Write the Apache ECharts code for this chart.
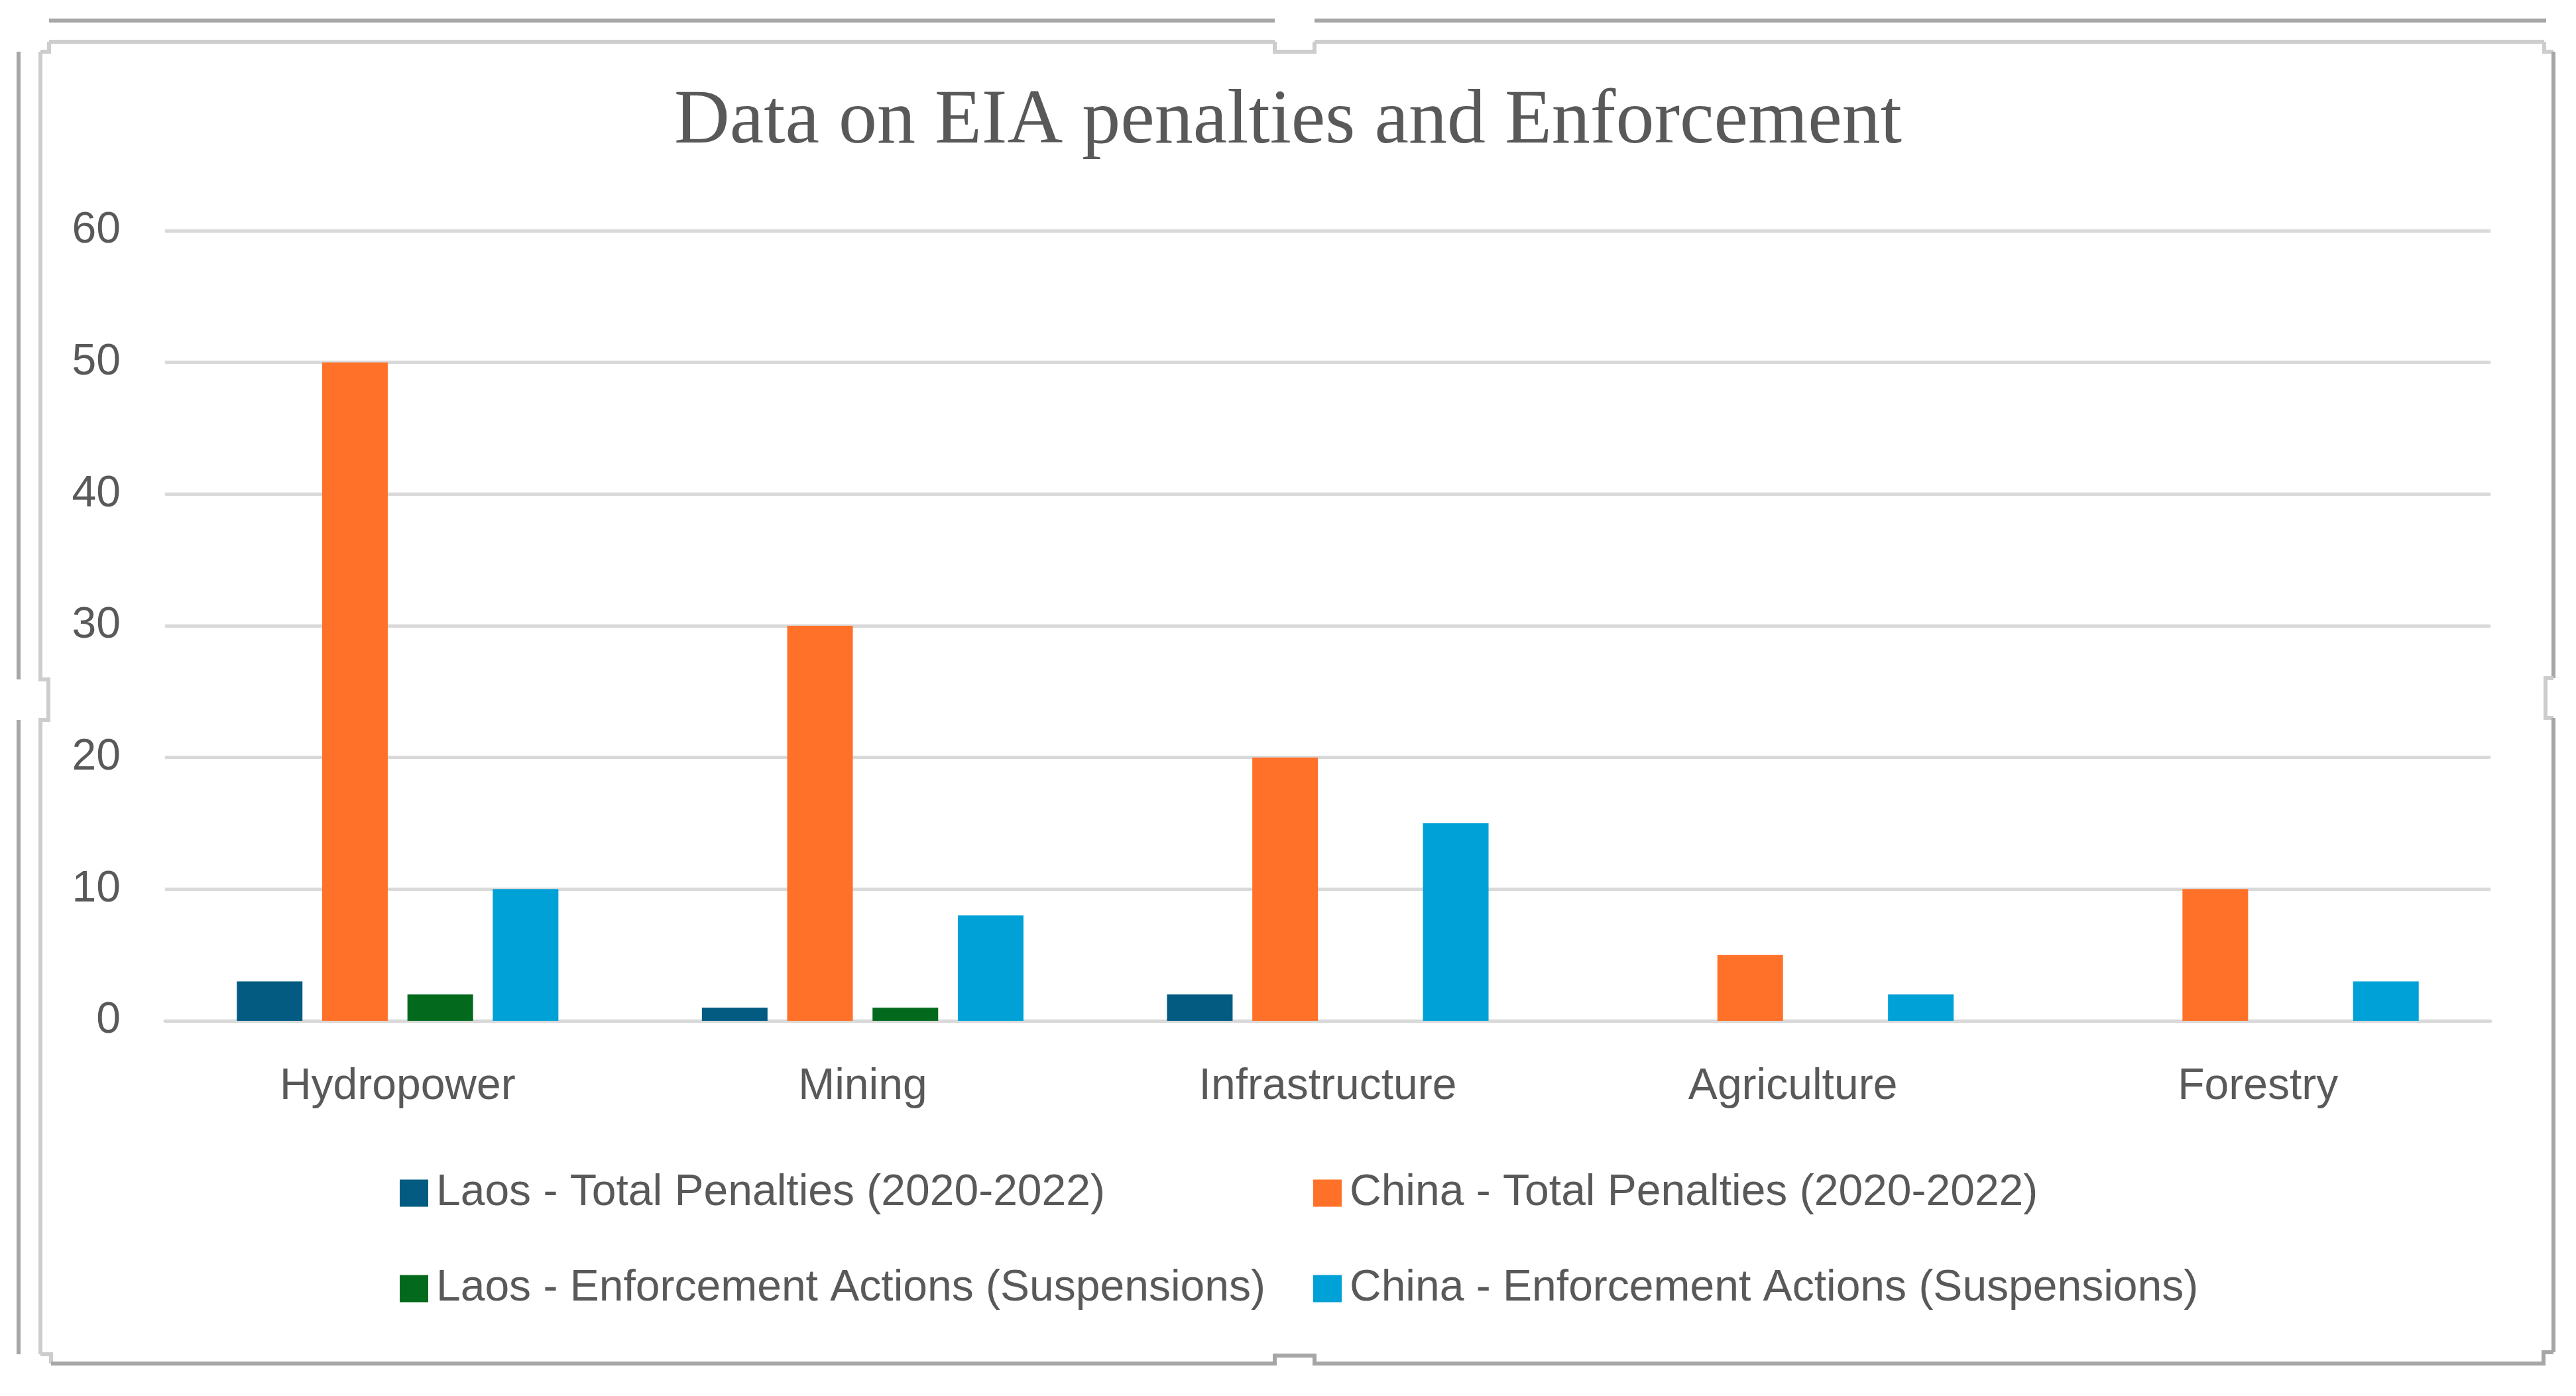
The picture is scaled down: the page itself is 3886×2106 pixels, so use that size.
<!DOCTYPE html>
<html>
<head>
<meta charset="utf-8">
<title>Data on EIA penalties and Enforcement</title>
<script src="https://cdn.jsdelivr.net/npm/echarts@6/dist/echarts.min.js"></script>
<style>
  html, body { margin: 0; padding: 0; background: #ffffff; }
  #chart { width: 3886px; height: 2106px; }
</style>
</head>
<body>
<div id="chart"></div>
<script>
// chart data
const categories = ['Hydropower', 'Mining', 'Infrastructure', 'Agriculture', 'Forestry'];
const laosPenalties = [3, 1, 2, 0, 0];
const chinaPenalties = [50, 30, 20, 5, 10];
const laosSuspensions = [2, 1, 0, 0, 0];
const chinaSuspensions = [10, 8, 15, 2, 3];
const seriesNames = [
    'Laos - Total Penalties (2020-2022)',
    'China - Total Penalties (2020-2022)',
    'Laos - Enforcement Actions (Suspensions)',
    'China - Enforcement Actions (Suspensions)'
];
const yTicks = [0, 10, 20, 30, 40, 50, 60];

const colors = ['#035b81', '#ff7128', '#036a1d', '#00a1d7'];
const textGrey = '#595959';
const sans = '"Liberation Sans", Arial, sans-serif';

// the selection frame round the chart, drawn as plain lines
function seg(points, color) {
    return {
        type: 'polyline',
        shape: { points: points },
        style: { stroke: color, lineWidth: 6, fill: null },
        silent: true
    };
}
const dark = '#a6a6a6';
const light = '#cdcdcd';
const frame = [
    seg([[74, 31], [1923, 31]], dark),
    seg([[1983, 31], [3841, 31]], dark),
    seg([[74, 63], [1923, 63]], light),
    seg([[1983, 63], [3838, 63]], light),
    seg([[1923, 63], [1923, 78], [1983, 78], [1983, 63]], light),
    seg([[28, 78], [28, 1025]], dark),
    seg([[28, 1086], [28, 2043]], dark),
    seg([[61, 78], [61, 1025], [73, 1025], [73, 1086], [61, 1086], [61, 2043]], light),
    seg([[61, 78], [74, 78], [74, 63]], light),
    seg([[3838, 63], [3838, 78], [3852, 78]], light),
    seg([[3852, 78], [3852, 1023]], dark),
    seg([[3852, 1023], [3840, 1023], [3840, 1083], [3852, 1083]], light),
    seg([[3852, 1083], [3852, 2040]], dark),
    seg([[61, 2043], [77, 2043], [77, 2057]], light),
    seg([[77, 2057], [1923, 2057], [1923, 2045], [1983, 2045], [1983, 2057], [3837, 2057], [3837, 2040], [3852, 2040]], dark)
];

const chart = echarts.init(document.getElementById('chart'));

const seriesData = [laosPenalties, chinaPenalties, laosSuspensions, chinaSuspensions];

function legendColumn(left, names) {
    return {
        orient: 'vertical',
        left: left,
        top: 1762,
        itemWidth: 43,
        itemHeight: 41,
        itemGap: 78,
        icon: 'rect',
        data: names,
        textStyle: {
            fontFamily: sans,
            fontSize: 66,
            lineHeight: 66,
            color: textGrey,
            padding: [0, 0, 0, 7]
        }
    };
}

const option = {
    animation: false,
    backgroundColor: '#ffffff',
    title: {
        text: 'Data on EIA penalties and Enforcement',
        left: 'center',
        top: 122,
        textStyle: {
            fontFamily: '"Liberation Serif", "Times New Roman", serif',
            fontSize: 116,
            fontWeight: 'normal',
            color: textGrey
        }
    },
    legend: [
        legendColumn(598, [seriesNames[0], seriesNames[2]]),
        legendColumn(1976, [seriesNames[1], seriesNames[3]])
    ],
    grid: {
        left: 249,
        right: 3886 - 3757,
        top: 348,
        bottom: 2106 - 1540,
        containLabel: false
    },
    xAxis: {
        type: 'category',
        data: categories,
        axisLine: { show: true, lineStyle: { color: '#d9d9d9', width: 5 } },
        axisTick: { show: false },
        axisLabel: {
            margin: 67,
            fontFamily: sans,
            fontSize: 66,
            color: textGrey
        }
    },
    yAxis: {
        type: 'value',
        min: yTicks[0],
        max: yTicks[yTicks.length - 1],
        interval: yTicks[1] - yTicks[0],
        axisLine: { show: false },
        axisTick: { show: false },
        splitLine: { lineStyle: { color: '#d9d9d9', width: 5 } },
        axisLabel: {
            margin: 67,
            fontFamily: sans,
            fontSize: 66,
            color: textGrey
        }
    },
    series: seriesData.map(function (values, i) {
        return {
            name: seriesNames[i],
            type: 'bar',
            data: values,
            barWidth: 99,
            barGap: '30%',
            itemStyle: { color: colors[i] }
        };
    }),
    graphic: frame
};

chart.setOption(option);
</script>
</body>
</html>
